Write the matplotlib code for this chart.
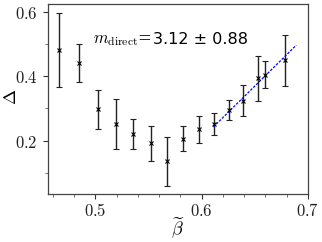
import matplotlib
matplotlib.use("Agg")
import matplotlib.pyplot as plt
from matplotlib.ticker import MultipleLocator, FuncFormatter

plt.rcParams['mathtext.fontset'] = 'cm'

beta = [0.466, 0.4847, 0.502, 0.519, 0.5357, 0.552, 0.5673, 0.5826,
        0.5974, 0.6117, 0.626, 0.6393, 0.6525, 0.6597, 0.678]
delta = [0.480, 0.441, 0.297, 0.253, 0.220, 0.192, 0.136, 0.207,
         0.236, 0.251, 0.296, 0.324, 0.393, 0.405, 0.449]
err = [0.115, 0.060, 0.060, 0.077, 0.046, 0.055, 0.076, 0.038,
       0.042, 0.034, 0.031, 0.048, 0.070, 0.042, 0.078]
fit_x = [0.611, 0.689]
fit_y = [0.243, 0.496]

fig = plt.figure(figsize=(3.22, 2.42), dpi=100)
ax = fig.add_axes([0.148, 0.198, 0.8085, 0.785])

ax.errorbar(beta, delta, yerr=err, fmt='x', color='black', ms=2.5, mew=0.8,
            ecolor='#222222', elinewidth=1.0, capsize=2.5, capthick=0.8)
ax.plot(fit_x, fit_y, color='blue', ls='--', lw=0.9, dashes=(2, 1.2))

fig.text(152 / 322, 1 - 43.5 / 242, r'$m_{\rm direct}$=', fontsize=12,
         ha='right', va='baseline', family='DejaVu Serif')
fig.text(153 / 322, 1 - 43.5 / 242, '3.12 \u00b1 0.88', fontsize=11.5,
         ha='left', va='baseline', family='DejaVu Sans')

ax.set_xlim(0.455, 0.7)
ax.set_ylim(0.035, 0.623)
ax.xaxis.set_major_locator(MultipleLocator(0.1))
ax.xaxis.set_minor_locator(MultipleLocator(0.02))
ax.yaxis.set_major_locator(MultipleLocator(0.2))
ax.yaxis.set_minor_locator(MultipleLocator(0.1))
fmt = FuncFormatter(lambda v, p: r'$%.1f$' % v)
ax.xaxis.set_major_formatter(fmt)
ax.yaxis.set_major_formatter(fmt)
ax.tick_params(which='major', direction='out', length=3.5, width=0.8, labelsize=12, colors='#333333', labelcolor='#222222')
ax.tick_params(which='minor', direction='out', length=2, width=0.6, colors='#555555')
ax.tick_params(axis='x', which='major', pad=2)
for s in ax.spines.values():
    s.set_color('#444444')
    s.set_linewidth(0.9)

fig.text(178 / 322, 1 - 228 / 242, r'$\widetilde{\beta}$', fontsize=13,
         ha='center', va='center')
fig.text(11 / 322, 1 - 97 / 242, r'$\Delta$', fontsize=13,
         ha='center', va='center', rotation=90)

fig.savefig('out.png', dpi=100)
